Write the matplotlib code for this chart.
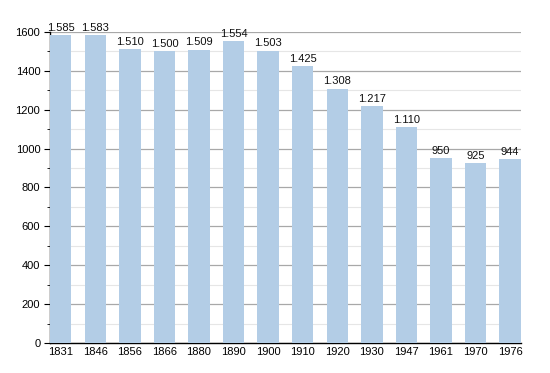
import matplotlib
matplotlib.use("Agg")
import matplotlib.pyplot as plt
from matplotlib.ticker import MultipleLocator
import numpy as np

plt.rcParams["font.family"] = ["Liberation Sans", "DejaVu Sans"]

years = ["1831", "1846", "1856", "1866", "1880", "1890", "1900", "1910",
         "1920", "1930", "1947", "1961", "1970", "1976"]
population = [1585, 1583, 1510, 1500, 1509, 1554, 1503, 1425,
              1308, 1217, 1110, 950, 925, 944]

fig = plt.figure(figsize=(5.5, 3.73), dpi=100)
ax = fig.add_axes([0.0909, 0.0804, 0.856, 0.834])

x = np.arange(len(years))
width = 0.62
bars = ax.bar(x, population, width=width, color="#b3cde6", zorder=3)

for xi, v in zip(x, population):
    label = f"{v:,}".replace(",", ".")
    ax.text(xi, v + 12, label, ha="center", va="bottom", fontsize=8,
            color="#111111", zorder=4)

ax.set_xlim(-width / 2, len(years) - 1 + width / 2)
ax.set_ylim(0, 1600)
ax.yaxis.set_major_locator(MultipleLocator(200))
ax.yaxis.set_minor_locator(MultipleLocator(100))
ax.grid(axis="y", which="major", color="#a8a8a8", linewidth=0.9, zorder=1)
ax.grid(axis="y", which="minor", color="#e6e6e6", linewidth=0.8, zorder=1)

ax.set_xticks(x)
ax.set_xticklabels(years)
ax.tick_params(axis="x", length=0, labelsize=8, pad=3)
ax.tick_params(axis="y", which="major", length=4, labelsize=8, pad=3)
ax.tick_params(axis="y", which="minor", length=2)

for side in ["top", "right"]:
    ax.spines[side].set_visible(False)
ax.spines["left"].set_linewidth(1.0)
ax.spines["bottom"].set_linewidth(1.0)

fig.savefig("out.png", dpi=100)
